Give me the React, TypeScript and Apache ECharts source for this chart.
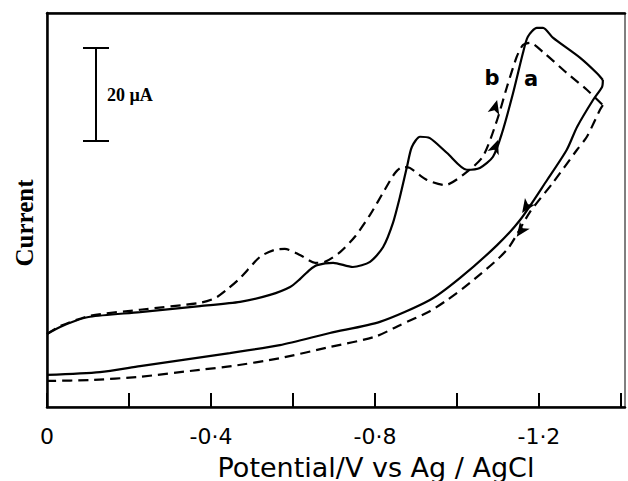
import React, { useEffect, useRef } from "react";
import * as echarts from "echarts";

// Potential (V vs Ag/AgCl, negative values) and current (µA, arbitrary offset)
// Curve a (solid)
const aForwardE = [0, -0.032, -0.068, -0.105, -0.227, -0.373, -0.471, -0.544, -0.593, -0.617, -0.641, -0.659, -0.698, -0.746, -0.788, -0.82, -0.844, -0.861, -0.878, -0.89, -0.91, -0.934, -0.976, -1.024, -1.056, -1.088, -1.11, -1.137, -1.161, -1.173, -1.195, -1.21, -1.234, -1.3, -1.341, -1.356];
const aForwardI = [15.7, 17.2, 18.5, 19.4, 20.4, 21.7, 22.6, 24.1, 25.8, 27.5, 29.5, 30.5, 31.0, 30.1, 31.2, 34.4, 39.6, 45.2, 51.6, 55.9, 58.1, 57.8, 54.6, 51.0, 51.4, 53.8, 58.9, 67.5, 76.1, 79.6, 81.5, 81.5, 79.4, 75.1, 71.8, 70.3];
const aReverseE = [-1.356, -1.354, -1.332, -1.293, -1.268, -1.22, -1.154, -1.098, -1.007, -0.934, -0.812, -0.69, -0.568, -0.446, -0.227, -0.129, 0];
const aReverseI = [70.3, 68.8, 66.0, 60.2, 55.3, 48.8, 40.2, 34.8, 27.7, 23.0, 18.3, 15.9, 13.3, 11.6, 8.8, 7.5, 6.9];

// Curve b (dashed)
const bForwardE = [0, -0.032, -0.105, -0.227, -0.373, -0.41, -0.441, -0.471, -0.52, -0.556, -0.58, -0.617, -0.654, -0.678, -0.715, -0.751, -0.788, -0.824, -0.849, -0.868, -0.885, -0.927, -0.971, -1.015, -1.063, -1.098, -1.122, -1.146, -1.161, -1.178, -1.21, -1.268, -1.317, -1.356];
const bForwardI = [15.7, 17.4, 19.6, 20.9, 22.4, 23.4, 25.4, 27.7, 32.3, 33.8, 34.0, 32.7, 31.0, 31.2, 33.3, 36.6, 41.3, 46.7, 50.3, 51.6, 51.4, 48.8, 47.7, 49.9, 53.8, 61.7, 68.8, 75.3, 77.8, 78.3, 76.3, 71.8, 68.2, 64.9];
const bReverseE = [-1.356, -1.349, -1.317, -1.293, -1.234, -1.178, -1.122, -1.032, -0.976, -0.934, -0.861, -0.8, -0.69, -0.568, -0.451, -0.373, -0.227, -0.105, 0];
const bReverseI = [64.9, 63.9, 58.1, 55.3, 48.2, 41.9, 33.8, 26.7, 23.0, 20.6, 17.6, 15.1, 12.9, 10.5, 8.8, 8.0, 6.5, 5.8, 5.6];

// Scan-direction arrows: [potential, current, rotation]
const aForwardArrow = [-1.1, 57.4, -20];
const bForwardArrow = [-1.098, 66.0, -15];
const aReverseArrow = [-1.159, 41.7, 146];
const bReverseArrow = [-1.146, 36.6, 145];

const labeledTicks = [0, 0.4, 0.8, 1.2];

const toPts = (e: number[], i: number[]) => e.map((v, k) => [-v, i[k]]);

export default function App() {
  const ref = useRef<HTMLDivElement>(null);
  useEffect(() => {
    if (!ref.current) return;
    const chart = echarts.init(ref.current, undefined, { renderer: "svg" });
    const solid = { color: "#000", width: 2.2, type: "solid" as const };
    const dashed = { color: "#000", width: 2.2, type: [10, 6] as any };
    const arrowMark = (a: number[]) => ({
      symbol: "arrow",
      symbolSize: [9, 14],
      silent: true,
      itemStyle: { color: "#000" },
      label: { show: false },
      data: [{ coord: [-a[0], a[1]], symbolRotate: a[2] }],
    });
    const mk = (name: string, e: number[], i: number[], ls: any, arrow: number[]) => ({
      name,
      type: "line",
      data: toPts(e, i),
      showSymbol: false,
      symbol: "none",
      smooth: 0.25,
      lineStyle: ls,
      markPoint: arrowMark(arrow),
      z: 3,
    });
    chart.setOption({
      animation: false,
      grid: {
        left: 47,
        right: 3,
        top: 13,
        bottom: 74,
        containLabel: false,
        outerBoundsMode: "none",
        show: true,
        borderColor: "#000",
        borderWidth: 1,
      },
      xAxis: [
        {
          type: "value",
          min: 0,
          max: 1.41,
          interval: 0.2,
          position: "bottom",
          axisLine: { show: true, lineStyle: { color: "#000", width: 2.5 } },
          axisTick: { show: true, inside: true, length: 14, lineStyle: { color: "#000", width: 2 } },
          axisLabel: {
            margin: 18,
            color: "#000",
            fontFamily: "DejaVu Sans",
            fontSize: 22,
            showMaxLabel: false,
            formatter: (v: number) => {
              const r = Math.round(v * 10) / 10;
              if (!labeledTicks.some((t) => Math.abs(t - r) < 1e-6)) return "";
              if (r === 0) return "0";
              return "-" + r.toFixed(1).replace(".", "·");
            },
          },
          splitLine: { show: false },
        },
        {
          type: "value",
          min: 0,
          max: 1.41,
          position: "top",
          axisLine: { show: true, lineStyle: { color: "#000", width: 2.5 } },
          axisTick: { show: false },
          axisLabel: { show: false },
          splitLine: { show: false },
        },
      ],
      yAxis: {
        type: "value",
        min: 0,
        max: 84.7,
        axisLine: { show: true, lineStyle: { color: "#000", width: 2.5 } },
        axisTick: { show: false },
        axisLabel: { show: false },
        splitLine: { show: false },
      },
      series: [
        mk("a forward", aForwardE, aForwardI, solid, aForwardArrow),
        mk("a reverse", aReverseE, aReverseI, solid, aReverseArrow),
        mk("b forward", bForwardE, bForwardI, dashed, bForwardArrow),
        mk("b reverse", bReverseE, bReverseI, dashed, bReverseArrow),
      ],
      graphic: [
        {
          type: "text",
          x: 376,
          y: 467,
          style: { text: "Potential/V vs Ag / AgCl", fontFamily: "DejaVu Sans", fontSize: 27, fill: "#000", align: "center", verticalAlign: "middle" },
        },
        {
          type: "text",
          x: 24,
          y: 223,
          rotation: Math.PI / 2,
          style: { text: "Current", fontFamily: "Liberation Serif", fontWeight: "bold", fontSize: 25, fill: "#000", align: "center", verticalAlign: "middle" },
        },
        { type: "line", shape: { x1: 96, y1: 48, x2: 96, y2: 141 }, style: { stroke: "#000", lineWidth: 2 } },
        { type: "line", shape: { x1: 83, y1: 48, x2: 109, y2: 48 }, style: { stroke: "#000", lineWidth: 2 } },
        { type: "line", shape: { x1: 83, y1: 141, x2: 109, y2: 141 }, style: { stroke: "#000", lineWidth: 2 } },
        {
          type: "text",
          x: 107,
          y: 95,
          style: { text: "20 µA", fontFamily: "Liberation Serif", fontWeight: "bold", fontSize: 18, fill: "#000", verticalAlign: "middle" },
        },
        {
          type: "text",
          x: 492,
          y: 78,
          style: { text: "b", fontFamily: "DejaVu Sans", fontWeight: "bold", fontSize: 21, fill: "#000", align: "center", verticalAlign: "middle" },
        },
        {
          type: "text",
          x: 531,
          y: 79,
          style: { text: "a", fontFamily: "DejaVu Sans", fontWeight: "bold", fontSize: 21, fill: "#000", align: "center", verticalAlign: "middle" },
        },
      ],
    });
    return () => chart.dispose();
  }, []);
  return (
    <div
      ref={ref}
      style={{ position: "fixed", left: 0, top: 0, width: 628, height: 481, background: "#fff" }}
    />
  );
}
